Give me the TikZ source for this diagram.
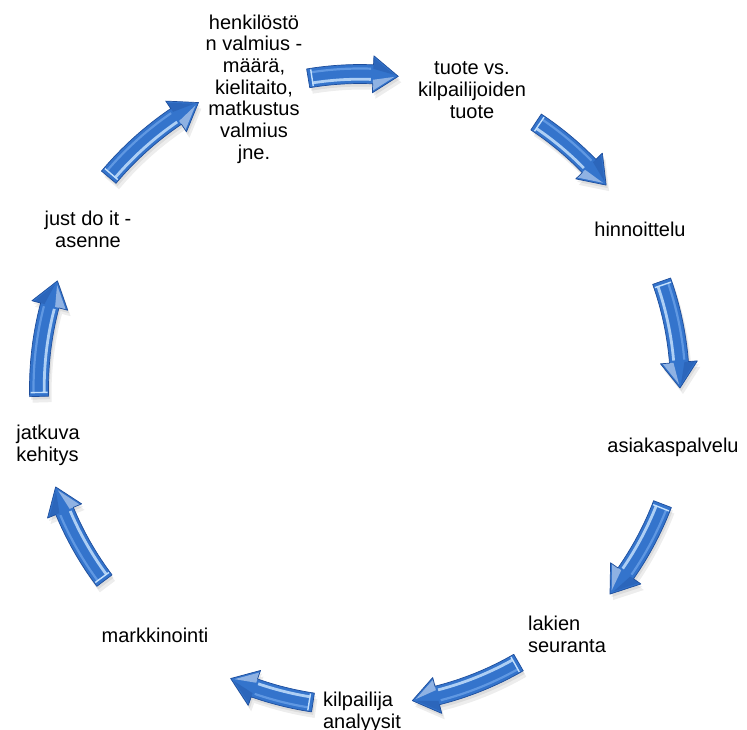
\documentclass[tikz,border=0pt]{standalone}
\usepackage{fontspec}
\setmainfont{Liberation Sans}
\definecolor{arrowblue}{RGB}{52,116,204}
\definecolor{arrowdark}{RGB}{30,78,156}
\definecolor{arrowlight}{RGB}{196,224,252}
\definecolor{arrowmid}{RGB}{96,152,226}
\newcommand{\cyclearrow}[3]{%
  \pgfmathsetmacro{\cyHb}{#2+4.6}%
  \pgfmathsetmacro{\cyRo}{#3+9.5}%
  \pgfmathsetmacro{\cyRi}{#3-9.5}%
  \pgfmathsetmacro{\cyHo}{#3+18.5}%
  \pgfmathsetmacro{\cyHi}{#3-18.5}%
  \pgfmathsetmacro{\cySa}{#1-0.7}%
  \pgfmathsetmacro{\cyEa}{\cyHb+0.4}%
  \def\cyPath{(#1:\cyRo) arc[start angle=#1, end angle=\cyHb, radius=\cyRo] -- (\cyHb:\cyHo) -- (#2:#3) -- (\cyHb:\cyHi) -- (\cyHb:\cyRi) arc[start angle=\cyHb, end angle=#1, radius=\cyRi] -- cycle}%
  \fill[black, opacity=0.07, shift={(1.5,-3)}] \cyPath;
  \fill[black, opacity=0.07, shift={(3,-6)}] \cyPath;
  \fill[arrowblue] \cyPath;
  \draw[arrowmid, line width=2.2] (\cySa:#3+5.5) arc[start angle=\cySa, end angle=\cyEa, radius=#3+5.5];
  \draw[arrowlight, line width=2.8, opacity=0.85] (\cySa:#3-5.2) arc[start angle=\cySa, end angle=\cyEa, radius=#3-5.2];
  \draw[arrowlight, line width=1.4] (\cySa:\cyRi+1) -- (\cySa:\cyRo-1);
  \fill[white, opacity=0.45] (\cyHb:\cyHi+2) -- (#2+0.7:#3-1) -- (\cyHb:#3-5.5) -- cycle;
  \fill[arrowdark, opacity=0.35] (\cyHb:\cyHo-2) -- (#2+0.7:#3+1) -- (\cyHb:#3+5.5) -- cycle;
  \draw[arrowdark, line width=0.7, line join=round] \cyPath;
}
\begin{document}
\begin{tikzpicture}[x=1pt, y=1pt,
  lbl/.style={font=\fontsize{20}{21.7}\selectfont, align=center, inner sep=0pt, text=black},
  lbll/.style={lbl, align=left}]
\useasboundingbox (0,0) rectangle (747,-729);
\fill[white] (0,0) rectangle (747,-729);

\node[lbl] (henk) at (254,-89) {henkilöstö\\n valmius -\\määrä,\\kielitaito,\\matkustus\\valmius\\jne.};
\node[lbl] (tuote) at (472,-90) {tuote vs.\\kilpailijoiden\\tuote};
\node[lbl] (hinn) at (640,-229) {hinnoittelu};
\node[lbl] (asia) at (673,-447) {asiakaspalvelu};
\node[lbll] (laki) at (567,-634) {lakien\\seuranta};
\node[lbll] (kilp) at (362,-712) {kilpailija\\analyysit};
\node[lbl] (mark) at (155,-635) {markkinointi};
\node[lbll] (jatk) at (48,-445) {jatkuva\\kehitys};
\node[lbl] (just) at (88,-229) {just do it -\\asenne};

\begin{scope}[shift={(360,-388)}]
  \cyclearrow{99.5}{83}{314}
  \cyclearrow{56.5}{39.5}{319}
  \cyclearrow{19.5}{0}{320}
  \cyclearrow{-21}{-39.5}{324}
  \cyclearrow{-60}{-80.5}{317}
  \cyclearrow{-98.5}{-114}{318}
  \cyclearrow{-143}{-162}{320}
  \cyclearrow{181.5}{160.5}{321}
  \cyclearrow{140}{119.5}{328}
\end{scope}
\end{tikzpicture}
\end{document}
